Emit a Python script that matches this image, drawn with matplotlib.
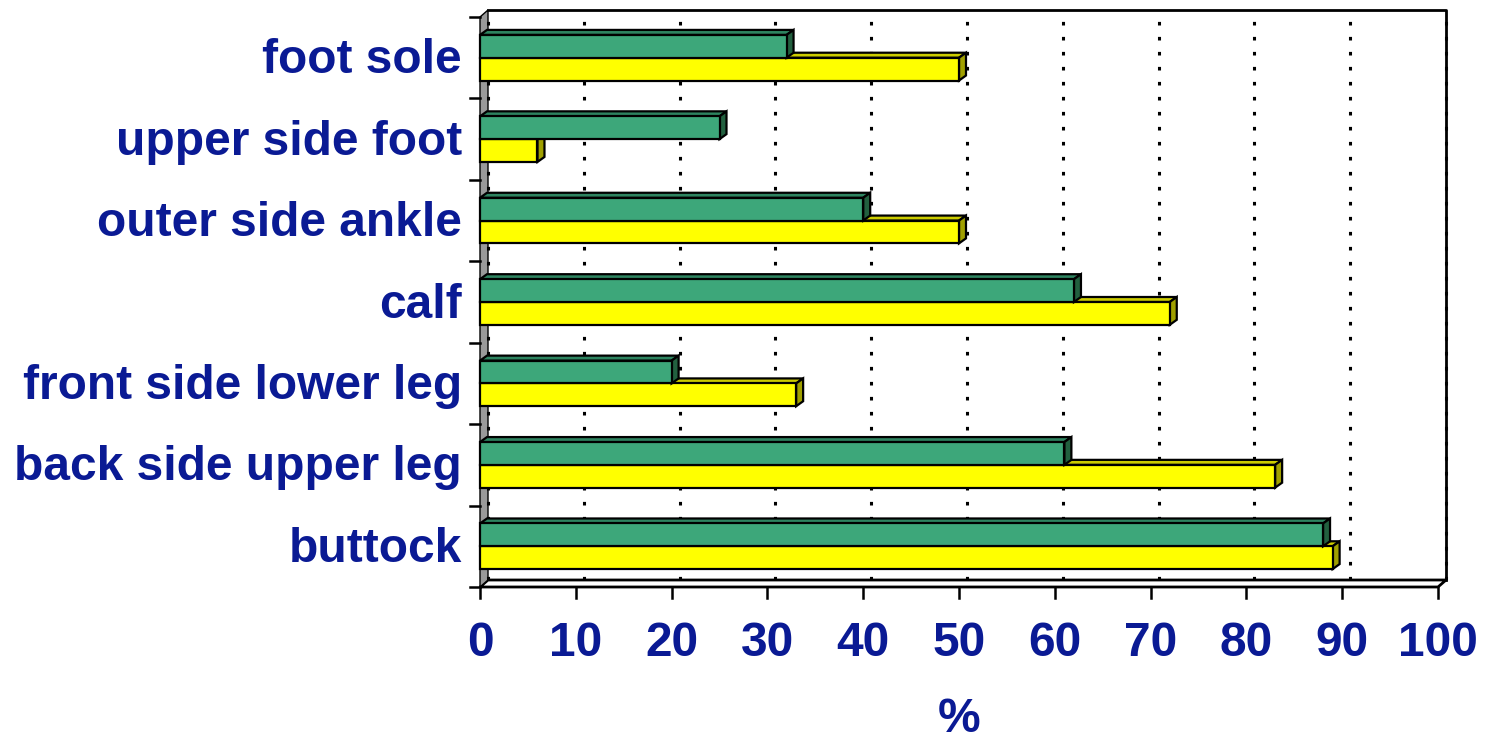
import matplotlib
matplotlib.use("Agg")
import matplotlib.pyplot as plt
from matplotlib.patches import Polygon

plt.rcParams['lines.scale_dashes'] = False

# ---- data ----
categories = ["buttock", "back side upper leg", "front side lower leg", "calf",
              "outer side ankle", "upper side foot", "foot sole"]
green_values = [88, 61, 20, 62, 40, 25, 32]
yellow_values = [89, 83, 33, 72, 50, 6, 50]
x_ticks = [0, 10, 20, 30, 40, 50, 60, 70, 80, 90, 100]
x_label = "%"

# ---- styles ----
label_color = "#0A1A94"
green_front, green_top, green_side = "#3DA77A", "#2E8460", "#22603F"
yellow_front, yellow_top, yellow_side = "#FFFF00", "#CCCC00", "#A0A000"
wall_gray = "#9A9A9A"
FONT = "Liberation Sans"
FS = 34.5

W, H = 1488, 743
fig = plt.figure(figsize=(W / 100, H / 100), dpi=100)

# pixel geometry
x0_px, x100_px = 480, 1438
px_per_x = (x100_px - x0_px) / 100.0
front_top_px, front_bot_px = 17, 587
n = len(categories)
px_per_y = (front_bot_px - front_top_px) / n
wall_dx_px, wall_dy_px = 8, 7
bar_dx_px, bar_dy_px = 7, 5

wdx = wall_dx_px / px_per_x
wdy = wall_dy_px / px_per_y
bdx = bar_dx_px / px_per_x
bdy = bar_dy_px / px_per_y

right_px = x100_px + wall_dx_px
top_px = front_top_px - wall_dy_px
ax = fig.add_axes([x0_px / W, (H - front_bot_px) / H,
                   (right_px - x0_px) / W, (front_bot_px - top_px) / H])
ax.set_xlim(0, 100 + wdx)
ax.set_ylim(0, n + wdy)
ax.axis("off")

# ---- walls ----
floor = Polygon([(0, 0), (100, 0), (100 + wdx, wdy), (wdx, wdy)], closed=True,
                facecolor="white", edgecolor="black", lw=2.0, zorder=1, clip_on=False)
ax.add_patch(floor)
lwall = Polygon([(0, 0), (wdx, wdy), (wdx, n + wdy), (0, n)], closed=True,
                facecolor=wall_gray, edgecolor="black", lw=1.0, zorder=1, clip_on=False)
ax.add_patch(lwall)
# back wall gridlines (dotted)
for t in x_ticks:
    ax.plot([t + wdx, t + wdx], [wdy, n + wdy], color="black", lw=2.2,
            linestyle=(0, (2.6, 8.2)), zorder=1.5, clip_on=False)
# back wall border
ax.plot([wdx, 100 + wdx, 100 + wdx], [n + wdy, n + wdy, wdy], color="black",
        lw=2.0, zorder=1.6, clip_on=False)

# ---- 3D bars ----
h = 0.28
def bar3d(y0, y1, v, cf, ct, cs, z):
    lw = 1.6
    ax.add_patch(Polygon([(0, y1), (v, y1), (v + bdx, y1 + bdy), (bdx, y1 + bdy)],
                         closed=True, facecolor=ct, edgecolor="black", lw=lw, zorder=z, clip_on=False))
    ax.add_patch(Polygon([(v, y0), (v + bdx, y0 + bdy), (v + bdx, y1 + bdy), (v, y1)],
                         closed=True, facecolor=cs, edgecolor="black", lw=lw, zorder=z, clip_on=False))
    ax.add_patch(Polygon([(0, y0), (v, y0), (v, y1), (0, y1)],
                         closed=True, facecolor=cf, edgecolor="black", lw=lw, zorder=z + 0.1, clip_on=False))

for i, (g, yv) in enumerate(zip(green_values, yellow_values)):
    c = i + 0.5
    bar3d(c - h, c, yv, yellow_front, yellow_top, yellow_side, 3 + i * 0.5)
    bar3d(c, c + h, g, green_front, green_top, green_side, 3.2 + i * 0.5)

# ---- ticks ----
tick_len_x = 11 / px_per_y
tick_len_y = 10 / px_per_x
for t in x_ticks:
    ax.plot([t, t], [0, -tick_len_x], color="black", lw=1.8, clip_on=False, zorder=2)
    ax.text(t, -(656 - front_bot_px) / px_per_y, str(t), ha="center", va="baseline",
            fontsize=FS, fontweight="bold", color=label_color, family=FONT, clip_on=False)
for k in range(n + 1):
    ax.plot([-tick_len_y, 0], [k, k], color="black", lw=1.8, clip_on=False, zorder=2)
for i, name in enumerate(categories):
    ax.text(-(x0_px - 462) / px_per_x, i + 0.5 - 15.5 / px_per_y, name,
            ha="right", va="baseline", fontsize=FS, fontweight="bold",
            color=label_color, family=FONT, clip_on=False)

ax.text(50, -(732 - front_bot_px) / px_per_y, x_label, ha="center", va="baseline",
        fontsize=FS, fontweight="bold", color=label_color, family=FONT, clip_on=False)

fig.savefig("out.png", dpi=100)
